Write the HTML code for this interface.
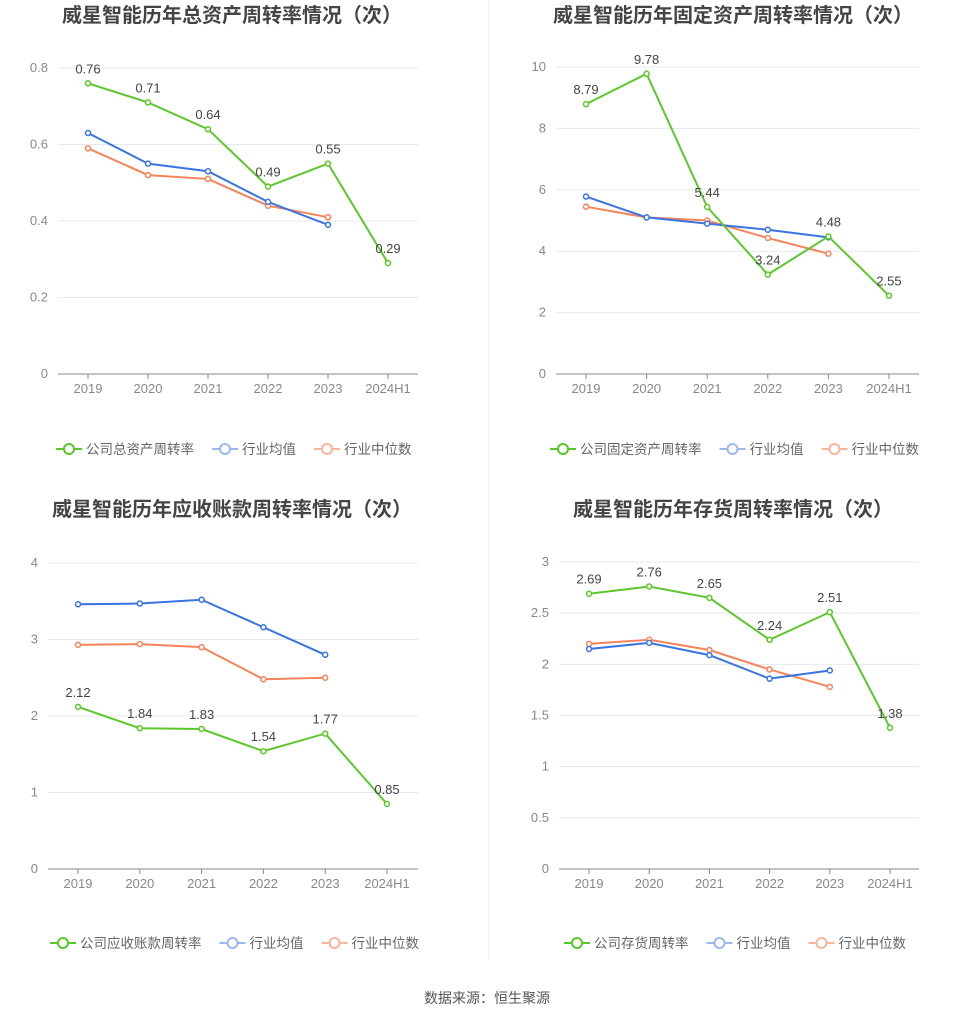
<!DOCTYPE html>
<html><head><meta charset="utf-8"><style>
body{margin:0;background:#fff;font-family:"Liberation Sans","Noto Sans CJK SC",sans-serif;}
svg text{font-family:"Liberation Sans","Noto Sans CJK SC",sans-serif;}
</style></head><body>
<svg id="c" width="975" height="1020"></svg>
<script>
const years=["2019","2020","2021","2022","2023","2024H1"];
const c1Company=[0.76,0.71,0.64,0.49,0.55,0.29];
const c1Avg=[0.63,0.55,0.53,0.45,0.39];
const c1Med=[0.59,0.52,0.51,0.44,0.41];
const c1Ticks=[0,0.2,0.4,0.6,0.8];
const c2Company=[8.79,9.78,5.44,3.24,4.48,2.55];
const c2Avg=[5.78,5.1,4.9,4.7,4.45];
const c2Med=[5.45,5.1,5.0,4.43,3.92];
const c2Ticks=[0,2,4,6,8,10];
const c3Company=[2.12,1.84,1.83,1.54,1.77,0.85];
const c3Avg=[3.46,3.47,3.52,3.16,2.8];
const c3Med=[2.93,2.94,2.9,2.48,2.5];
const c3Ticks=[0,1,2,3,4];
const c4Company=[2.69,2.76,2.65,2.24,2.51,1.38];
const c4Avg=[2.15,2.21,2.09,1.86,1.94];
const c4Med=[2.2,2.24,2.14,1.95,1.78];
const c4Ticks=[0,0.5,1,1.5,2,2.5,3];
const NS="http://www.w3.org/2000/svg";
const svg=document.getElementById('c');
function mk(t,a,p){const e=document.createElementNS(NS,t);for(const k in a)e.setAttribute(k,a[k]);(p||svg).appendChild(e);return e;}
function chart(o){
 const g=mk('g',{});
 
 
 const max=o.ticks[o.ticks.length-1];
 const ys=v=>o.y0-(o.y0-o.yTop)*v/max;
 const xs=i=>o.x0+i*o.dx;
 const t=mk('text',{x:o.cx,y:o.ty,'text-anchor':'middle','font-size':20,'font-weight':'bold',fill:'#444'},g);t.textContent=o.title;
 
 
 o.ticks.forEach(v=>{
  const y=ys(v);
  if(v>0){const l=mk('line',{x1:o.left,x2:o.right,y1:y,y2:y,stroke:'#e6e8f0'},g);
   
   }
  const tt=mk('text',{x:o.left-10,y:y+4,'text-anchor':'end','font-size':13,fill:'#888'},g);tt.textContent=v;
  
  
 });
 const ax=mk('line',{x1:o.left,x2:o.right,y1:o.y0,y2:o.y0,stroke:'#888'},g);
 
 
 years.forEach((yr,i)=>{
  mk('line',{x1:xs(i),x2:xs(i),y1:o.y0,y2:o.y0+5,stroke:'#888'},g);
  const tt=mk('text',{x:xs(i),y:o.y0+19,'text-anchor':'middle','font-size':13,fill:'#888'},g);tt.textContent=yr;
  
  
 });
 const series=[[o.med,'#f5845a','median'],[o.avg,'#3a74e0','average'],[o.co,'#5cc72a','company']];
 series.forEach(([d,col,n])=>{
  const p=mk('polyline',{points:d.map((v,i)=>xs(i)+','+ys(v)).join(' '),fill:'none',stroke:col,'stroke-width':2},g);
  
  
  d.forEach((v,i)=>{const ci=mk('circle',{cx:xs(i),cy:ys(v),r:2.5,fill:'#fff',stroke:col,'stroke-width':1.5},g);
   
   });
 });
 o.co.forEach((v,i)=>{const tt=mk('text',{x:xs(i),y:ys(v)-10,'text-anchor':'middle','font-size':13,fill:'#444'},g);tt.textContent=v.toFixed(2);
  
  });
 const names=[o.leg,'行业均值','行业中位数'],cols=['#5cc72a','#9db8ee','#f9b49c'];
 let lx=o.lx;
 names.forEach((n,k)=>{
  const lg=mk('g',{},g);
  
  
  const c=cols[k];
  mk('line',{x1:lx,x2:lx+26,y1:o.ly,y2:o.ly,stroke:c,'stroke-width':2},lg);
  mk('circle',{cx:lx+13,cy:o.ly,r:5,fill:'#fff',stroke:c,'stroke-width':2},lg);
  const tt=mk('text',{x:lx+30,y:o.ly+5,'font-size':13.5,fill:'#666'},lg);tt.textContent=n;
  lx+=30+n.length*13.5+18;
 });
}
chart({name:'total-asset-turnover-chart',title:'威星智能历年总资产周转率情况（次）',cx:232,ty:22,left:58,right:418,x0:88,dx:60,y0:374,yTop:68,ticks:c1Ticks,co:c1Company,avg:c1Avg,med:c1Med,leg:'公司总资产周转率',lx:56,ly:449});
chart({name:'fixed-asset-turnover-chart',title:'威星智能历年固定资产周转率情况（次）',cx:733,ty:22,left:556,right:919,x0:586,dx:60.6,y0:374,yTop:67,ticks:c2Ticks,co:c2Company,avg:c2Avg,med:c2Med,leg:'公司固定资产周转率',lx:550,ly:449});
chart({name:'receivables-turnover-chart',title:'威星智能历年应收账款周转率情况（次）',cx:232,ty:516,left:48,right:418,x0:78,dx:61.8,y0:869,yTop:563,ticks:c3Ticks,co:c3Company,avg:c3Avg,med:c3Med,leg:'公司应收账款周转率',lx:50,ly:943});
chart({name:'inventory-turnover-chart',title:'威星智能历年存货周转率情况（次）',cx:733,ty:516,left:559,right:919,x0:589,dx:60.2,y0:869,yTop:562,ticks:c4Ticks,co:c4Company,avg:c4Avg,med:c4Med,leg:'公司存货周转率',lx:564,ly:943});
const dv=mk('line',{x1:489,x2:489,y1:0,y2:960,stroke:'#eee'});


const ft=mk('text',{x:487,y:1003,'text-anchor':'middle','font-size':14,fill:'#555'});ft.textContent='数据来源：恒生聚源';


</script></body></html>
